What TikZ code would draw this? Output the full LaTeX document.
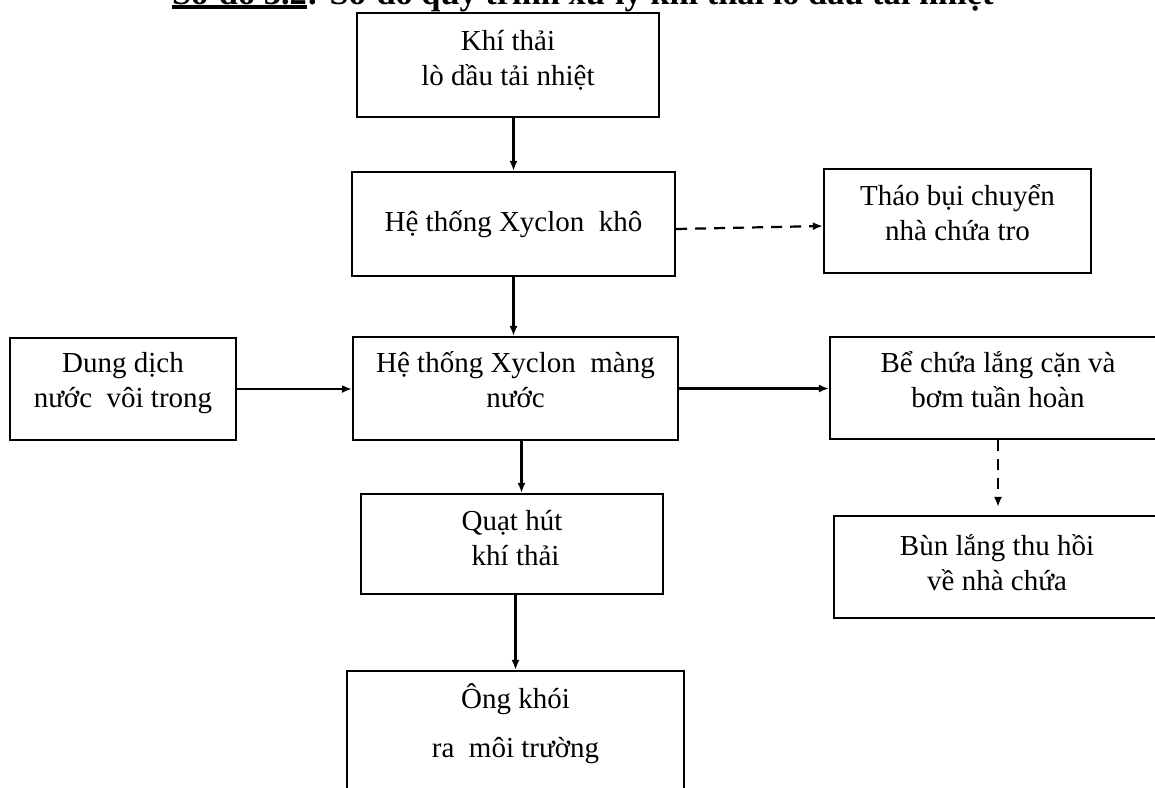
\documentclass[tikz,border=0pt]{standalone}
\usepackage{fontspec}
\setmainfont{Liberation Serif}
\usetikzlibrary{arrows.meta}
\newcommand{\thickul}[1]{\setbox0\hbox{#1}\rlap{\rule[-2.3pt]{\wd0}{2pt}}#1}

\begin{document}
\begin{tikzpicture}[x=0.5pt,y=-0.5pt,line width=1.1pt,
  box/.style={draw,align=center,inner sep=0pt,text depth=9pt,font=\fontsize{14.5}{17.5}\selectfont},
  arr/.style={-{Latex[length=5pt,width=4pt]}},
  darr/.style={arr,dash pattern=on 5.5pt off 4pt}]

  \useasboundingbox (0,0) rectangle (1155,787);

  % title, cut by the top edge
  \node[anchor=base west,inner sep=0pt,font=\fontsize{17.2}{20}\selectfont\bfseries] (title) at (171,4)
    {\thickul{Sơ đồ 3.2}: Sơ đồ quy trình xử lý khí thải lò dầu tải nhiệt};

  % main line
  \node[box,text depth=7pt,minimum width=151pt,minimum height=52pt] (khi) at (508,65) {Khí thải\\lò dầu tải nhiệt};
  \node[box,text depth=3.5pt,minimum width=161.5pt,minimum height=52pt] (xkho) at (513.5,224) {Hệ thống Xyclon\ \ khô};
  \node[box,minimum width=162.5pt,minimum height=51.5pt] (xmang) at (515.5,388.5) {Hệ thống Xyclon\ \ màng\\nước};
  \node[box,text depth=6pt,minimum width=151pt,minimum height=50pt] (quat) at (512,544) {Quạt hút\\\ khí thải};
  \node[box,minimum width=168.5pt,minimum height=59pt] (ong) at (515.5,730) {Ông khói\\[7pt]ra\ \ môi trường};

  % side boxes
  \node[box,minimum width=133.5pt,minimum height=52pt] (thao) at (957.5,221) {Tháo bụi chuyển\\nhà chứa tro};
  \node[box,minimum width=113pt,minimum height=51pt] (dung) at (123,389) {Dung dịch\\nước\ \ vôi trong};
  \node[box,minimum width=168pt,minimum height=51pt] (be) at (998,388) {Bể chứa lắng cặn và\\bơm tuần hoàn};
  \node[box,text depth=5pt,minimum width=163pt,minimum height=51pt] (bun) at (997,567) {Bùn lắng thu hồi\\về nhà chứa};

  \coordinate (m) at ([xshift=3pt]xmang.south);

  \draw[arr] (khi.south -| xkho.north) -- (xkho.north);
  \draw[darr] ([yshift=-2.5pt]xkho.east) -- ([yshift=-2.5pt]thao.west);
  \draw[arr] (xkho.south) -- (xkho.south |- xmang.north);
  \draw[arr] (dung.east) -- (dung.east -| xmang.west);
  \draw[arr] (xmang.east) -- (xmang.east -| be.west);
  \draw[darr,shorten >=4pt] (be.south) -- (be.south |- bun.north);
  \draw[arr] (m) -- (m |- quat.north);
  \draw[arr] (quat.south -| ong.north) -- (ong.north);

\end{tikzpicture}
\end{document}
